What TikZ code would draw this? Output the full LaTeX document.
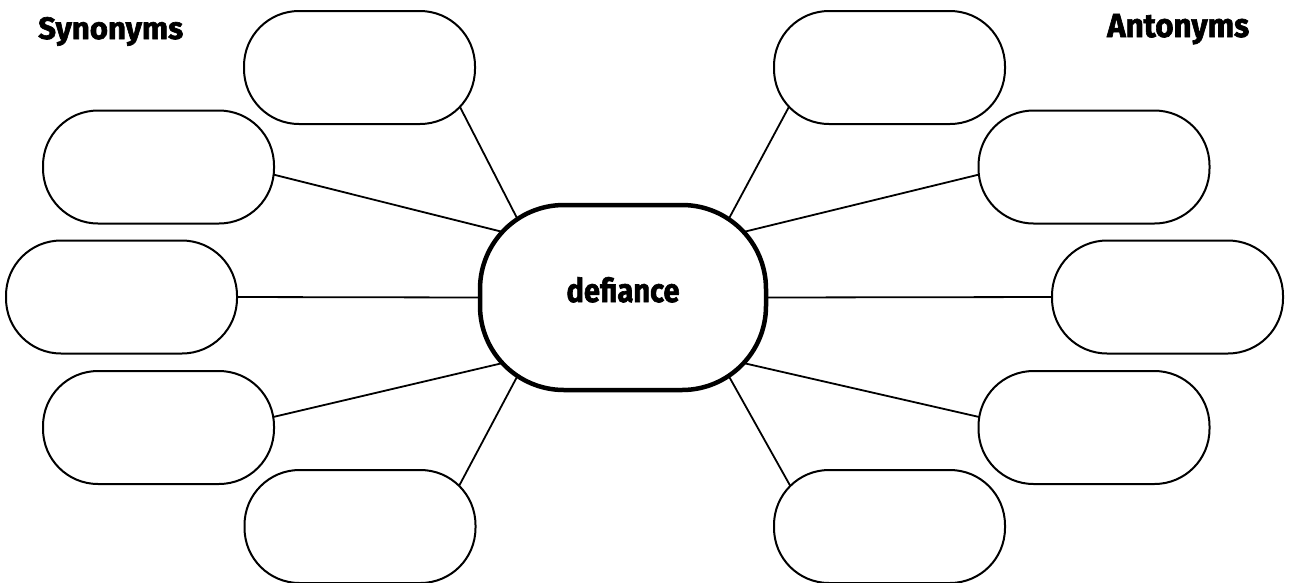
\documentclass[tikz,border=0pt]{standalone}
\usepackage{fontspec}
\setmainfont{Fira Sans}
\newfontfamily\heavyfont{Fira Sans}[BoldFeatures={FakeBold=2}]
\usetikzlibrary{calc,backgrounds}
\tikzset{
  box/.style={draw, line width=2pt, rounded corners=55pt, minimum width=231pt, minimum height=113pt, fill=white, inner sep=0pt},
  hub/.style={draw, line width=4.5pt, rounded corners=84pt, minimum width=286pt, minimum height=185pt, fill=white, inner sep=0pt},
  link/.style={line width=1.8pt},
  head/.style={inner sep=0pt, anchor=base west}
}
\begin{document}
\begin{tikzpicture}[x=1pt,y=-1pt]
\useasboundingbox (0,0) rectangle (1290,582);
% headings
\node[head] (syn) at (38,39) {\resizebox{145pt}{22pt}{\heavyfont\bfseries Synonyms}};
\node[head] (ant) at (1107,37) {\resizebox{142pt}{23pt}{\heavyfont\bfseries Antonyms}};
% centre
\node[hub, text height=25pt, text depth=16pt] (c) at (623,297.5) {\resizebox{113pt}{25pt}{\heavyfont\bfseries defiance}};
% left boxes
\node[box] (l1) at (359.5,67.5) {};
\node[box] (l2) at (158.5,167) {};
\node[box] (l3) at (121.5,297) {};
\node[box] (l4) at (158.5,427.5) {};
\node[box] (l5) at (360,526.5) {};
% right boxes
\node[box] (r1) at (889.5,67.5) {};
\node[box] (r2) at (1094,167) {};
\node[box] (r3) at (1167.5,297) {};
\node[box] (r4) at (1094,427.5) {};
\node[box] (r5) at (889.5,526.5) {};
% connectors
\begin{scope}[on background layer]
\draw[link] ($(c.center)+(-102.3,-72.2)$) -- ($(l1.center)+(97.8,34.2)$);
\draw[link] ($(c.center)+(-114.2,-64)$) -- ($(l2.center)+(110.7,6.5)$);
\draw[link] ($(c.center)+(-139,0)$) -- ($(l3.center)+(109.5,0)$);
\draw[link] ($(c.center)+(-114.2,64.1)$) -- ($(l4.center)+(108.7,-9.1)$);
\draw[link] ($(c.center)+(-102.2,72.2)$) -- ($(l5.center)+(96.2,-35.2)$);
\draw[link] ($(c.center)+(102.3,-72.2)$) -- ($(r1.center)+(-97.8,34.2)$);
\draw[link] ($(c.center)+(114.2,-64)$) -- ($(r2.center)+(-110.7,6.5)$);
\draw[link] ($(c.center)+(139,0)$) -- ($(r3.center)+(-109.5,0)$);
\draw[link] ($(c.center)+(114.2,64.1)$) -- ($(r4.center)+(-108.7,-9.1)$);
\draw[link] ($(c.center)+(102.2,72.2)$) -- ($(r5.center)+(-96.2,-35.2)$);
\end{scope}
\end{tikzpicture}
\end{document}
